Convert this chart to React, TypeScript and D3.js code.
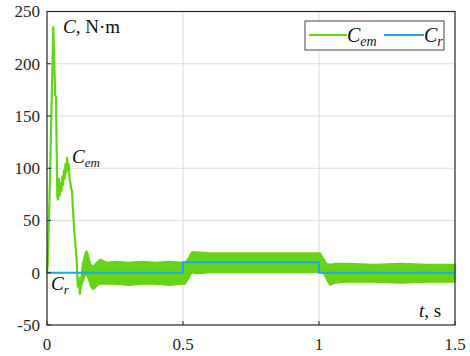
import * as React from 'react';
import * as d3 from 'd3';

// start-up transient of the electromagnetic torque (t in s, C in N·m)
const startT = [0, 0.003, 0.011, 0.023, 0.027, 0.030, 0.033, 0.035, 0.038, 0.041, 0.044, 0.047, 0.050,
	0.053, 0.056, 0.059, 0.062, 0.065, 0.068, 0.071, 0.074, 0.077, 0.080, 0.083, 0.086, 0.089, 0.092,
	0.095, 0.099, 0.104, 0.109, 0.113, 0.117, 0.121];
const startCem = [0, 10, 90, 235, 200, 170, 168, 130, 72, 70, 90, 74, 86, 78, 92, 84, 98, 90, 104, 96,
	110, 98, 104, 90, 86, 80, 79, 62, 45, 28, 12, -13, -5, -21];

// envelope of the ripple band of C_em after start-up
const bandT = [0.121, 0.130, 0.140, 0.146, 0.152, 0.160, 0.168, 0.176, 0.186, 0.196, 0.206, 0.22, 0.25,
	0.30, 0.35, 0.40, 0.45, 0.50, 0.508, 0.52, 0.532, 0.55, 0.60, 0.70, 0.80, 0.90, 1.00, 1.005, 1.016,
	1.028, 1.04, 1.06, 1.10, 1.20, 1.30, 1.40, 1.50];
const bandHi = [-13, 8, 19, 21, 17, 9, 6, 8, 11, 13, 12, 10, 11, 10, 11, 10, 11, 10, 10, 14, 20, 20, 19,
	19, 19, 19, 19, 19, 14, 9, 8, 9, 9, 8, 9, 8, 8];
const bandLo = [-21, -10, -3, -2, -6, -13, -16, -15, -12, -11, -11, -11, -11, -12, -11, -11, -12, -11,
	-11, -6, 0, -1, 0, 0, 0, 0, 0, 0, 0, -7, -12, -10, -9, -9, -10, -9, -9];

// load torque
const crT = [0, 0.5, 0.5, 1.0, 1.0, 1.5];
const crVal = [0, 0, 10, 10, 0, 0];

const xTicks = [0, 0.5, 1, 1.5];
const yTicks = [-50, 0, 50, 100, 150, 200, 250];

const GREEN = '#66d317';
const BLUE = '#1fa5ec';
const FONT = "'Liberation Serif', 'Times New Roman', serif";

const update = (svgNode: SVGSVGElement) => {
	const svg = d3.select(svgNode);
	svg.html('');

	const x = d3.scaleLinear().domain([0, 1.5]).range([47, 455]);
	const y = d3.scaleLinear().domain([-50, 250]).range([325, 11.5]);

	svg.append('rect').attr('width', 470).attr('height', 356).attr('fill', 'white');

	// grid
	const grid = svg.append('g').attr('stroke', '#dcdcdc').attr('stroke-width', 1);
	grid.selectAll('.gx')
		.data(xTicks.filter(t => t > 0 && t < 1.5))
		.enter().append('line')
		.attr('x1', d => x(d)).attr('x2', d => x(d))
		.attr('y1', y(250)).attr('y2', y(-50));
	grid.selectAll('.gy')
		.data(yTicks.filter(t => t > -50 && t < 250))
		.enter().append('line')
		.attr('x1', x(0)).attr('x2', x(1.5))
		.attr('y1', d => y(d)).attr('y2', d => y(d));

	// ripple band
	const band = d3.area<number>()
		.x(i => x(bandT[i]))
		.y0(i => y(bandLo[i]))
		.y1(i => y(bandHi[i]));
	svg.append('path')
		.attr('d', band(d3.range(bandT.length)))
		.attr('fill', GREEN)
		.attr('stroke', GREEN)
		.attr('stroke-width', 1.2);

	const line = d3.line<number>()
		.x(i => x(startT[i]))
		.y(i => y(startCem[i]));
	svg.append('path')
		.attr('d', line(d3.range(startT.length)))
		.attr('fill', 'none')
		.attr('stroke', GREEN)
		.attr('stroke-width', 2.2)
		.attr('stroke-linejoin', 'round');

	const crLine = d3.line<number>()
		.x(i => x(crT[i]))
		.y(i => y(crVal[i]));
	svg.append('path')
		.attr('d', crLine(d3.range(crT.length)))
		.attr('fill', 'none')
		.attr('stroke', BLUE)
		.attr('stroke-width', 2);

	// frame and ticks
	svg.append('rect')
		.attr('x', x(0)).attr('y', y(250))
		.attr('width', x(1.5) - x(0)).attr('height', y(-50) - y(250))
		.attr('fill', 'none').attr('stroke', '#262626').attr('stroke-width', 1.2);

	const ticks = svg.append('g').attr('stroke', '#262626').attr('stroke-width', 1);
	ticks.selectAll('.ty').data(yTicks).enter().append('line')
		.attr('x1', x(0)).attr('x2', x(0) + 4)
		.attr('y1', d => y(d)).attr('y2', d => y(d));
	ticks.selectAll('.tx').data(xTicks).enter().append('line')
		.attr('x1', d => x(d)).attr('x2', d => x(d))
		.attr('y1', y(-50)).attr('y2', y(-50) - 4);

	const labels = svg.append('g').style('font-family', FONT).style('font-size', '17px').attr('fill', '#262626');
	labels.selectAll('.ly').data(yTicks).enter().append('text')
		.attr('x', 40).attr('y', d => y(d)).attr('dy', '0.35em')
		.attr('text-anchor', 'end')
		.text(d => String(d));
	labels.selectAll('.lx').data(xTicks).enter().append('text')
		.attr('x', d => x(d)).attr('y', 350)
		.attr('text-anchor', 'middle')
		.text(d => String(d));

	// annotations
	const sub = (sel, px, py, main, s, rest = '', size = 19) => {
		const t = sel.append('text').attr('x', px).attr('y', py)
			.style('font-family', FONT).style('font-size', size + 'px').attr('fill', '#111');
		t.append('tspan').attr('font-style', 'italic').text(main);
		if (s) t.append('tspan').attr('font-style', 'italic').style('font-size', Math.round(size * 0.68) + 'px').attr('dy', 4).text(s);
		if (rest) t.append('tspan').text(rest);
		return t;
	};
	sub(svg, 63, 33, 'C', '', ', N·m');
	sub(svg, 72, 163, 'C', 'em');
	sub(svg, 51, 290, 'C', 'r');
	sub(svg, 419, 317, 't', '', ', s');

	// legend
	const lg = svg.append('g');
	lg.append('rect').attr('x', 305).attr('y', 21).attr('width', 139).attr('height', 29)
		.attr('fill', 'white').attr('stroke', '#444').attr('stroke-width', 1);
	lg.append('line').attr('x1', 309).attr('x2', 347).attr('y1', 35).attr('y2', 35)
		.attr('stroke', GREEN).attr('stroke-width', 2);
	sub(lg, 347, 42, 'C', 'em', '', 20);
	lg.append('line').attr('x1', 384).attr('x2', 424).attr('y1', 35).attr('y2', 35)
		.attr('stroke', BLUE).attr('stroke-width', 2);
	sub(lg, 424, 42, 'C', 'r', '', 20);
};

export default function App() {
	const ref = React.useRef<SVGSVGElement>(null);
	React.useEffect(() => {
		if (ref.current) update(ref.current);
	}, []);
	return (
		<svg
			ref={ref}
			width={470}
			height={356}
			style={{position: 'absolute', left: 0, top: 0}}
		/>
	);
}
